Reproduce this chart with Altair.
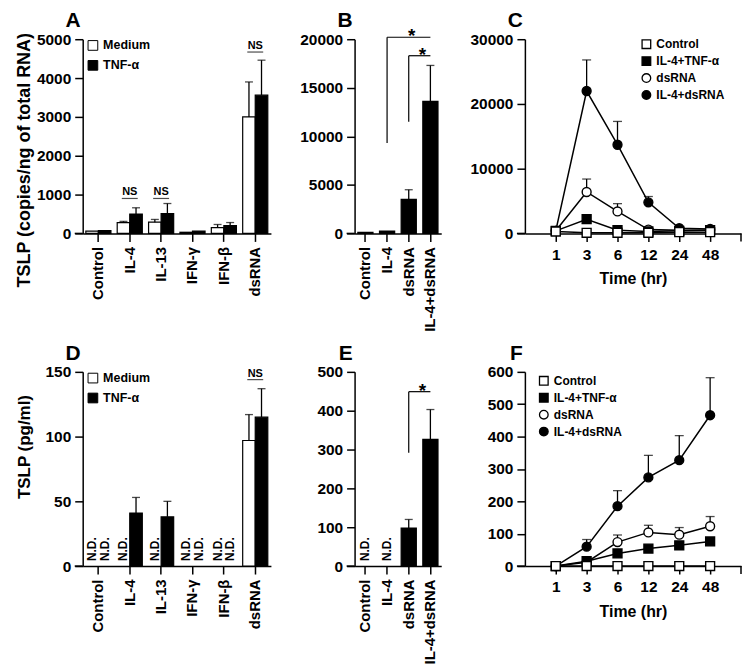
import altair as alt
import pandas as pd

FONT = "Liberation Sans"

# ---------------- data ----------------
catA = ["Control", "IL-4", "IL-13", "IFN-γ", "IFN-β", "dsRNA"]
groups = ["Medium", "TNF-α"]

# Panel A: TSLP mRNA (copies/ng of total RNA)
A_medium = [60, 280, 290, 30, 150, 3000]
A_medium_err = [0, 30, 70, 0, 80, 900]
A_tnf = [70, 500, 510, 60, 200, 3560]
A_tnf_err = [0, 160, 260, 0, 80, 900]
A_ns_cats = ["IL-4", "IL-13", "dsRNA"]
A_ns_level = [900, 900, 4670]

# Panel B
catB = ["Control", "IL-4", "dsRNA", "IL-4+dsRNA"]
B_val = [100, 250, 3500, 13600]
B_err = [0, 0, 1000, 3700]
B_br_from = ["IL-4", "dsRNA"]
B_br_to = ["IL-4+dsRNA", "IL-4+dsRNA"]
B_br_low = [9300, 11500]
B_br_top = [20200, 18300]
B_star_at = ["dsRNA", "IL-4+dsRNA"]

# Panel C / F time courses
times = ["1", "3", "6", "12", "24", "48"]
series = ["Control", "IL-4+TNF-α", "dsRNA", "IL-4+dsRNA"]
C_control = [300, 100, 100, 100, 200, 200]
C_control_err = [0, 0, 0, 0, 0, 0]
C_il4tnf = [400, 2200, 500, 300, 400, 500]
C_il4tnf_err = [0, 0, 0, 0, 0, 0]
C_dsrna = [400, 6400, 3400, 600, 500, 500]
C_dsrna_err = [0, 2000, 1200, 0, 0, 0]
C_il4ds = [400, 22000, 13700, 4800, 800, 700]
C_il4ds_err = [0, 4800, 3600, 900, 0, 0]

# Panel D: TSLP protein (pg/ml); None = N.D.
D_medium = [None, None, None, None, None, 97]
D_medium_err = [0, 0, 0, 0, 0, 20]
D_tnf = [None, 41, 38, None, None, 115]
D_tnf_err = [0, 12, 12, 0, 0, 22]
D_ns_cats = ["dsRNA"]
D_ns_level = [144]

# Panel E
E_val = [None, None, 98, 326]
E_err = [0, 0, 22, 77]
E_br_from = ["dsRNA"]
E_br_to = ["IL-4+dsRNA"]
E_br_low = [292]
E_br_top = [449]
E_star_at = ["IL-4+dsRNA"]

# Panel F
F_control = [0, 0, 0, 0, 0, 0]
F_control_err = [0, 0, 0, 0, 0, 0]
F_il4tnf = [0, 15, 39, 54, 64, 76]
F_il4tnf_err = [0, 0, 0, 0, 0, 0]
F_dsrna = [0, 12, 74, 104, 97, 123]
F_dsrna_err = [0, 0, 22, 22, 22, 30]
F_il4ds = [0, 60, 185, 274, 327, 466]
F_il4ds_err = [0, 22, 48, 68, 76, 116]

# ---------------- helpers ----------------
W_A, W_B, W_C, H = 189, 87, 217, 195
TICK = 8


def y_axis(values, title=None, tfs=18, ty=0):
    if title is None:
        return alt.Axis(values=values, format="d", title=None)
    return alt.Axis(values=values, format="d", title=title, titleAngle=-90,
                    titleX=-58, titleY=ty, titleAlign="center",
                    titleBaseline="middle", titleFontSize=tfs)


cat_axis = alt.Axis(title=None, labelAngle=-90, labelFontSize=15, labelPadding=5)


def letter_layer(letter):
    return alt.Chart(pd.DataFrame({"t": [letter]})).mark_text(
        align="right", baseline="alphabetic", fontSize=21, fontWeight="bold",
        font=FONT, color="black"
    ).encode(x=alt.value(-2), y=alt.value(-12), text="t:N")


def axis_stub(Y, right_w=None):
    """GraphPad-style x-axis line extending left of the y axis (and end tick)."""
    zdf = pd.DataFrame({"z": [0]})
    out = [alt.Chart(zdf).mark_rule(color="black", strokeWidth=1.5).encode(
        x=alt.value(-TICK), x2=alt.value(0), y=Y("z:Q"))]
    if right_w is not None:
        out.append(alt.Chart(zdf).mark_rule(color="black", strokeWidth=1.5).encode(
            x=alt.value(right_w), y=Y("z:Q"), y2=alt.value(H + TICK)))
    return out


def grouped_panel(cats, med, med_err, tnf, tnf_err, ymax, yticks, ytitle, tfs, ty,
                  ns_cats, ns_level, letter):
    rows = []
    for i, c in enumerate(cats):
        for g, vals, errs in ((groups[0], med, med_err), (groups[1], tnf, tnf_err)):
            v = vals[i]
            rows.append(dict(cat=c, grp=g, v=v,
                             top=(v + errs[i]) if v is not None else None,
                             z=0, nd="N.D." if v is None else ""))
    df = pd.DataFrame(rows)
    base = alt.Chart(df)
    xsc = alt.Scale(domain=cats, paddingInner=0.2, paddingOuter=0.1)
    ysc = alt.Scale(domain=[0, ymax], nice=False)
    yax = y_axis(yticks, ytitle, tfs, ty)

    def X(f):
        return alt.X(f, scale=xsc, axis=cat_axis)

    def Y(f):
        return alt.Y(f, scale=ysc, axis=yax)

    xo = alt.XOffset("grp:N", scale=alt.Scale(domain=groups, paddingInner=0, paddingOuter=0))
    leg = alt.Legend(title=None, orient="none", legendX=4, legendY=0, symbolType="square",
                     symbolSize=95, symbolStrokeColor="black", symbolStrokeWidth=1,
                     labelFontSize=12.5, labelFontWeight="bold", labelFont=FONT,
                     labelColor="black", rowPadding=5, labelOffset=4, padding=0)
    bars = base.transform_filter("datum.v != null").mark_bar(
        stroke="black", strokeWidth=1.2).encode(
        x=X("cat:N"), xOffset=xo, y=Y("v:Q"),
        fill=alt.Fill("grp:N", scale=alt.Scale(domain=groups, range=["white", "black"]),
                      legend=leg))
    errf = "datum.v != null && datum.top > datum.v"
    err = base.transform_filter(errf).mark_rule(color="black", strokeWidth=1.3).encode(
        x=X("cat:N"), xOffset=xo, y=Y("v:Q"), y2="top:Q")
    cap = base.transform_filter(errf).mark_tick(color="black", size=8, thickness=1.3).encode(
        x=X("cat:N"), xOffset=xo, y=Y("top:Q"))
    nd = base.transform_filter("datum.v == null").mark_text(
        angle=270, align="left", baseline="middle", dx=5, fontSize=12,
        fontWeight="bold", font=FONT, color="black").encode(
        x=X("cat:N"), xOffset=xo, y=Y("z:Q"), text="nd:N")
    nsdf = pd.DataFrame({"cat": ns_cats, "lev": ns_level, "lab": ["NS"] * len(ns_cats)})
    nsb = alt.Chart(nsdf)
    ns_line = nsb.mark_tick(color="black", size=16, thickness=1.2).encode(
        x=X("cat:N"), y=Y("lev:Q"))
    ns_text = nsb.mark_text(baseline="alphabetic", dy=-3, fontSize=11, fontWeight="bold",
                            font=FONT, color="black").encode(
        x=X("cat:N"), y=Y("lev:Q"), text="lab:N")
    return alt.layer(bars, err, cap, nd, ns_line, ns_text, *axis_stub(Y),
                     letter_layer(letter)).properties(width=W_A, height=H)


def single_panel(cats, vals, errs, ymax, yticks, br_from, br_to, br_low, br_top,
                 star_at, star_dx, letter):
    rows = []
    for i, c in enumerate(cats):
        v = vals[i]
        rows.append(dict(cat=c, v=v, top=(v + errs[i]) if v is not None else None,
                         z=0, nd="N.D." if v is None else ""))
    df = pd.DataFrame(rows)
    base = alt.Chart(df)
    xsc = alt.Scale(domain=cats, paddingInner=0.3, paddingOuter=0.15)
    ysc = alt.Scale(domain=[0, ymax], nice=False)
    yax = y_axis(yticks)

    def X(f):
        return alt.X(f, scale=xsc, axis=cat_axis)

    def Y(f):
        return alt.Y(f, scale=ysc, axis=yax)

    bars = base.transform_filter("datum.v != null").mark_bar(
        color="black", stroke="black", strokeWidth=1.2).encode(x=X("cat:N"), y=Y("v:Q"))
    errf = "datum.v != null && datum.top > datum.v"
    err = base.transform_filter(errf).mark_rule(color="black", strokeWidth=1.3).encode(
        x=X("cat:N"), y=Y("v:Q"), y2="top:Q")
    cap = base.transform_filter(errf).mark_tick(color="black", size=8, thickness=1.3).encode(
        x=X("cat:N"), y=Y("top:Q"))
    nd = base.transform_filter("datum.v == null").mark_text(
        angle=270, align="left", baseline="middle", dx=5, fontSize=12,
        fontWeight="bold", font=FONT, color="black").encode(
        x=X("cat:N"), y=Y("z:Q"), text="nd:N")
    brdf = pd.DataFrame({"f": br_from, "t": br_to, "lo": br_low, "hi": br_top,
                         "s": star_at, "star": ["*"] * len(br_from)})
    brb = alt.Chart(brdf)
    vrule = brb.mark_rule(color="black", strokeWidth=1.2).encode(
        x=X("f:N"), y=Y("lo:Q"), y2="hi:Q")
    hrule = brb.mark_rule(color="black", strokeWidth=1.2).encode(
        x=X("f:N"), x2="t:N", y=Y("hi:Q"))
    layers = [bars, err, cap, nd, vrule, hrule]
    for i in range(len(br_from)):
        layers.append(
            alt.Chart(brdf.iloc[[i]]).mark_text(
                baseline="alphabetic", dy=5, dx=star_dx[i], fontSize=19,
                fontWeight="bold", font=FONT, color="black").encode(
                x=X("s:N"), y=Y("hi:Q"), text="star:N"))
    layers += axis_stub(Y)
    layers.append(letter_layer(letter))
    return alt.layer(*layers).properties(width=W_B, height=H)


def line_panel(vals, errs, ymax, yticks, lx, ly, letter):
    rows = []
    for si in reversed(range(len(series))):
        for i, t in enumerate(times):
            v = vals[si][i]
            rows.append(dict(s=series[si], t=t, ti=i, v=v, top=v + errs[si][i]))
    df = pd.DataFrame(rows)
    base = alt.Chart(df)
    xsc = alt.Scale(type="point", domain=times, padding=1)
    xax = alt.Axis(title="Time (hr)", labelAngle=0, labelPadding=6,
                   titleFontSize=16, titlePadding=8)
    ysc = alt.Scale(domain=[0, ymax], nice=False)
    yax = y_axis(yticks)

    def X(f):
        return alt.X(f, scale=xsc, axis=xax)

    def Y(f):
        return alt.Y(f, scale=ysc, axis=yax)

    leg = alt.Legend(title=None, orient="none", legendX=lx, legendY=ly, symbolSize=75,
                     symbolStrokeWidth=1.3,
                     labelFontSize=12, labelFontWeight="bold", labelFont=FONT,
                     labelColor="black", rowPadding=3, labelOffset=4, padding=0)
    lines = base.mark_line(color="black", strokeWidth=1.5).encode(
        x=X("t:N"), y=Y("v:Q"), detail="s:N", order="ti:Q")
    errf = "datum.top > datum.v"
    err = base.transform_filter(errf).mark_rule(color="black", strokeWidth=1.3).encode(
        x=X("t:N"), y=Y("v:Q"), y2="top:Q")
    cap = base.transform_filter(errf).mark_tick(color="black", size=9, thickness=1.3).encode(
        x=X("t:N"), y=Y("top:Q"))
    pts = base.mark_point(filled=True, opacity=1, strokeWidth=1.4, size=80).encode(
        x=X("t:N"), y=Y("v:Q"),
        shape=alt.Shape("s:N", scale=alt.Scale(domain=series,
                                               range=["square", "square", "circle", "circle"]),
                        legend=leg),
        fill=alt.Fill("s:N", scale=alt.Scale(domain=series,
                                             range=["white", "black", "white", "black"]),
                      legend=leg),
        stroke=alt.Stroke("s:N", scale=alt.Scale(domain=series,
                                                 range=["black", "black", "black", "black"]),
                          legend=leg))
    return alt.layer(lines, err, cap, pts, *axis_stub(Y, W_C),
                     letter_layer(letter)).properties(width=W_C, height=H)


pA = grouped_panel(catA, A_medium, A_medium_err, A_tnf, A_tnf_err, 5000,
                   [0, 1000, 2000, 3000, 4000, 5000],
                   "TSLP (copies/ng of total RNA)", 18, 121, A_ns_cats, A_ns_level, "A")
pB = single_panel(catB, B_val, B_err, 20000, [0, 5000, 10000, 15000, 20000],
                  B_br_from, B_br_to, B_br_low, B_br_top, B_star_at, [3, -8], "B")
pC = line_panel([C_control, C_il4tnf, C_dsrna, C_il4ds],
                [C_control_err, C_il4tnf_err, C_dsrna_err, C_il4ds_err],
                30000, [0, 10000, 20000, 30000], 116, -1, "C")
pD = grouped_panel(catA, D_medium, D_medium_err, D_tnf, D_tnf_err, 150,
                   [0, 50, 100, 150], "TSLP (pg/ml)", 17, 75, D_ns_cats, D_ns_level, "D")
pE = single_panel(catB, E_val, E_err, 500, [0, 100, 200, 300, 400, 500],
                  E_br_from, E_br_to, E_br_low, E_br_top, E_star_at, [-8], "E")
pF = line_panel([F_control, F_il4tnf, F_dsrna, F_il4ds],
                [F_control_err, F_il4tnf_err, F_dsrna_err, F_il4ds_err],
                600, [0, 100, 200, 300, 400, 500, 600], 13, 3, "F")

chart = alt.concat(pA, pB, pC, pD, pE, pF, columns=3,
                   spacing={"row": 139, "column": 84},
                   bounds="flush", align="each").resolve_scale(
    fill="independent", shape="independent", stroke="independent"
).resolve_legend(fill="independent", shape="independent", stroke="independent").properties(
    padding={"left": 7, "top": 1, "right": 0, "bottom": 0},
    background="white"
).configure(font=FONT).configure_view(strokeWidth=0).configure_axis(
    domainColor="black", domainWidth=1.5, tickColor="black", tickWidth=1.5,
    tickSize=TICK, labelColor="black", labelFont=FONT, labelFontWeight="bold",
    labelFontSize=15.5, labelPadding=4, titleFont=FONT, titleFontWeight="bold",
    titleColor="black", grid=False)

chart.save("out.html", embed_options={"renderer": "svg", "actions": False})
